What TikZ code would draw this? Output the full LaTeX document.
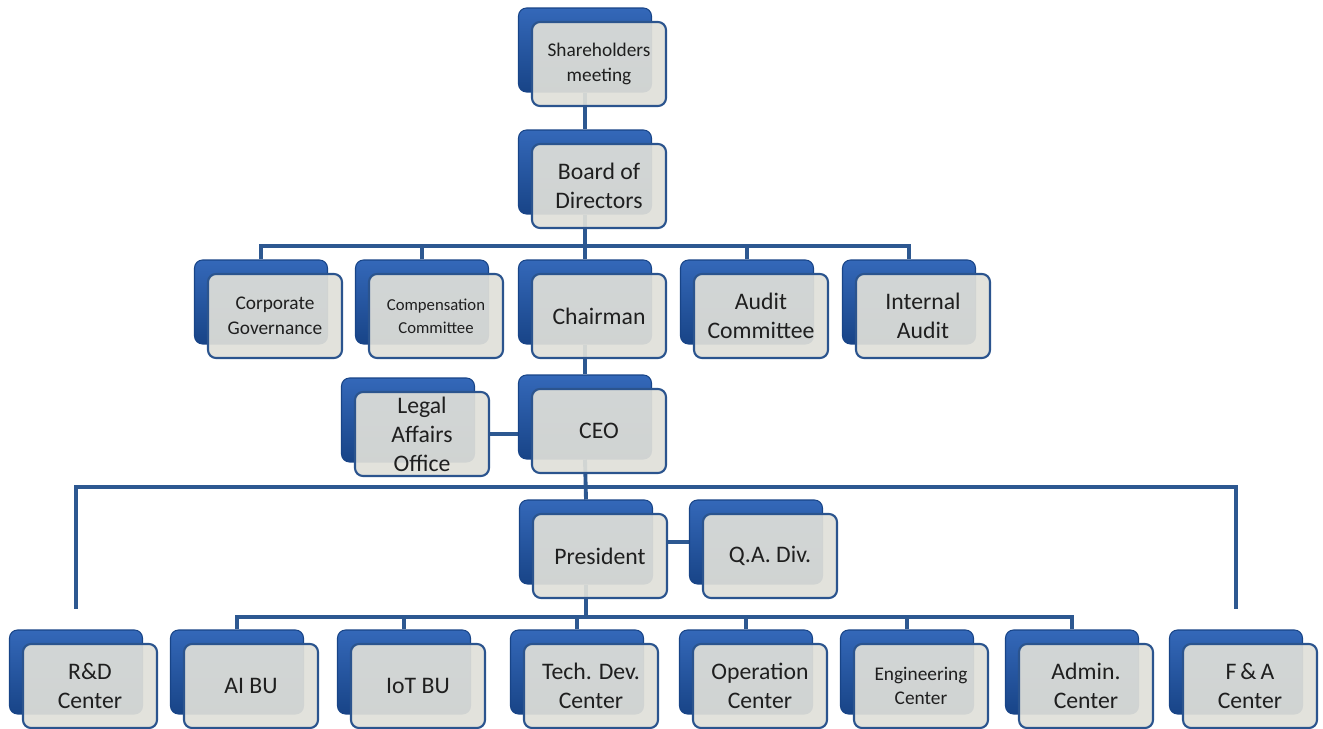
\documentclass[tikz,border=0pt]{standalone}
\usepackage{fontspec}
\setmainfont{Carlito}
\usetikzlibrary{positioning,backgrounds}
\definecolor{cardtop}{RGB}{52,104,185}
\definecolor{carddark}{RGB}{24,68,135}
\definecolor{cardgrey}{RGB}{224,224,217}
\definecolor{cardedge}{RGB}{43,84,142}
\definecolor{linkblue}{RGB}{45,88,145}
\newcommand\cardbig{\fontsize{13.5}{16.5}\selectfont}
\newcommand\cardmid{\fontsize{11}{14}\selectfont}
\newcommand\cardsmall{\fontsize{9.5}{13}\selectfont}
% back card is the named node, front card is <name>-f
\newcommand\card[5]{%
  \node[back] (#1) at (#2,#3) {};
  \node[front,font=#4] (#1-f) at ([shift={(14,14)}]#1.center) {#5};}
\begin{document}
\begin{tikzpicture}[x=0.02cm,y=-0.02cm,
    back/.style={rounded corners=0.16cm,minimum width=2.66cm,minimum height=1.68cm,inner sep=0pt,
      top color=cardtop,bottom color=carddark,draw=carddark,line width=0.6pt},
    front/.style={rounded corners=0.16cm,minimum width=2.68cm,minimum height=1.68cm,inner sep=0pt,
      fill=cardgrey,fill opacity=0.92,text opacity=1,draw=cardedge,line width=1.2pt,
      align=center,text=black!88},
    link/.style={draw=linkblue,line width=2.2pt}]
    \useasboundingbox (0,0) rectangle (1323,729);

    \card{share}{585}{50}{\cardmid}{Shareholders\\meeting}
    \card{board}{585}{172}{\cardbig}{Board of\\Directors}

    \card{gov}{261}{302}{\cardmid}{Corporate\\Governance}
    \card{comp}{422}{302}{\cardsmall}{Compensation\\Committee}
    \card{chair}{585}{302}{\cardbig}{Chairman}
    \card{audit}{747}{302}{\cardbig}{Audit\\Committee}
    \card{intaudit}{909}{302}{\cardbig}{Internal\\Audit}

    \card{legal}{408}{420}{\cardbig}{Legal\\Affairs\\Office}
    \card{ceo}{585}{417}{\cardbig}{CEO}

    \card{pres}{586}{542}{\cardbig}{President}
    \card{qa}{756}{542}{\cardbig}{Q.A. Div.}

    \card{rd}{76}{672}{\cardbig}{R\&D\\Center}
    \card{ai}{237}{672}{\cardbig}{AI BU}
    \card{iot}{404}{672}{\cardbig}{IoT BU}
    \card{tech}{577}{672}{\cardbig}{Tech. Dev.\\Center}
    \card{oper}{746}{672}{\cardbig}{Operation\\Center}
    \card{eng}{907}{672}{\cardmid}{Engineering\\Center}
    \card{admin}{1072}{672}{\cardbig}{Admin.\\Center}
    \card{fa}{1236}{672}{\cardbig}{F\,\&\,A\\Center}

    \coordinate (busA) at (0,246);
    \coordinate (busB) at (0,487);
    \coordinate (busC) at (0,617);
    \coordinate (sidetop) at (0,609);

    \begin{scope}[on background layer]
        \draw[link] (share.south) -- (board.north);
        \draw[link] (board.south) -- (board |- busA);
        \draw[link] (gov.north) -- (gov |- busA) -- (intaudit |- busA) -- (intaudit.north);
        \foreach \n in {comp,chair,audit}
            \draw[link] (\n.north) -- (\n |- busA);
        \draw[link] (chair.south) -- (ceo.north);
        \draw[link] (legal-f.east) -- (ceo.west |- legal-f.east);
        \draw[link] (ceo.south) -- (pres.north);
        \draw[link] (rd |- sidetop) -- (rd |- busB) -- (fa |- busB) -- (fa |- sidetop);
        \draw[link] (pres-f.east |- qa.west) -- (qa.west);
        \draw[link] (pres.south) -- (pres |- busC);
        \draw[link] (ai.north) -- (ai |- busC) -- (admin |- busC) -- (admin.north);
        \foreach \n in {iot,tech,oper,eng}
            \draw[link] (\n.north) -- (\n |- busC);
    \end{scope}
\end{tikzpicture}
\end{document}
